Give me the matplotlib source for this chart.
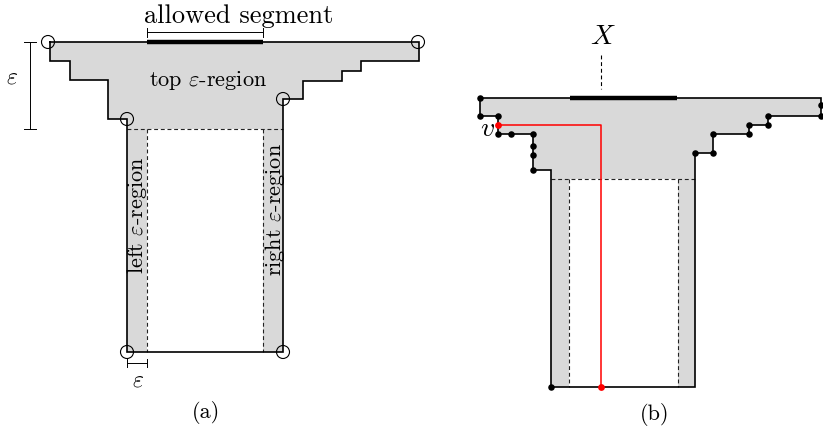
import matplotlib
matplotlib.use("Agg")
import matplotlib.pyplot as plt
from matplotlib.patches import Polygon, Rectangle, Circle

plt.rcParams['font.family'] = ['cmr10', 'DejaVu Serif']
plt.rcParams['mathtext.fontset'] = 'cm'
plt.rcParams['axes.unicode_minus'] = False

GRAY = '#d9d9d9'

# ---- panel (a) geometry (pixel units, y downward) ----
a_outline_x = [50, 419, 419, 361, 361, 342, 342, 303, 303, 283, 283, 127, 127, 108, 108, 70, 70, 50, 50]
a_outline_y = [42, 42, 61, 61, 71, 71, 81, 81, 99, 99, 352, 352, 119, 119, 80, 80, 61, 61, 42]
a_inner = (147, 129, 263, 352)          # x0, y0, x1, y1 of white interior
a_body_x = (127, 283)
a_segment_x = (147, 263)
a_circles_x = [48, 418, 127, 283, 127, 283]
a_circles_y = [42, 42, 119, 99, 352, 352]

# ---- panel (b) geometry ----
b_outline_x = [480, 821, 821, 768, 768, 749, 749, 713, 713, 695, 695, 551, 551, 533, 533, 498, 498, 480, 480]
b_outline_y = [98, 98, 116, 116, 125, 125, 134, 134, 153, 153, 387, 387, 170, 170, 134, 134, 116, 116, 98]
b_inner = (569, 179, 678, 387)
b_body_x = (551, 695)
b_segment_x = (570, 677)
b_dots_x = [480, 480, 498, 498, 511, 533, 533, 533, 533, 551, 821, 821, 768, 768, 749, 749, 713, 713, 695]
b_dots_y = [98, 116, 116, 134, 134, 134, 146, 155, 170, 387, 105, 116, 116, 125, 125, 134, 134, 153, 153]
b_path_x = [498, 601, 601]
b_path_y = [125, 125, 387]

fig = plt.figure(figsize=(8.23, 4.30), dpi=100)
ax = fig.add_axes([0, 0, 1, 1])
ax.set_xlim(0, 823)
ax.set_ylim(430, 0)
ax.axis('off')

LW = 1.2
DASH = (0, (3.5, 2.5))


def panel(ox, oy, inner, body_x, seg_x):
    ax.add_patch(Polygon(list(zip(ox, oy)), closed=True, facecolor=GRAY, edgecolor='none', zorder=1))
    x0, y0, x1, y1 = inner
    ax.add_patch(Rectangle((x0, y0), x1 - x0, y1 - y0, facecolor='white', edgecolor='none', zorder=2))
    ax.plot([body_x[0], body_x[1]], [y0, y0], color='#222222', lw=0.8, ls=DASH, zorder=3)
    ax.plot([x0, x0], [y0, y1], color='#222222', lw=0.8, ls=DASH, zorder=3)
    ax.plot([x1, x1], [y0, y1], color='#222222', lw=0.8, ls=DASH, zorder=3)
    ax.plot(ox, oy, color='black', lw=LW, zorder=4, solid_joinstyle='miter')
    ax.plot(seg_x, [oy[0], oy[0]], color='black', lw=3.2, zorder=5, solid_capstyle='butt')


panel(a_outline_x, a_outline_y, a_inner, a_body_x, a_segment_x)
panel(b_outline_x, b_outline_y, b_inner, b_body_x, b_segment_x)

# panel (a) annotations
for cx, cy in zip(a_circles_x, a_circles_y):
    ax.add_patch(Circle((cx, cy), 6.5, facecolor='none', edgecolor='black', lw=0.8, zorder=6))

# allowed segment bracket
ax.plot([147, 263], [32, 32], color='black', lw=0.7)
ax.plot([147, 147], [28, 37], color='black', lw=0.7)
ax.plot([263, 263], [28, 37], color='black', lw=0.7)
ax.text(144, 16, 'allowed segment', fontsize=19, ha='left', va='center')

# vertical epsilon bracket
ax.plot([30, 30], [42, 129], color='black', lw=0.7)
ax.plot([24, 36], [42, 42], color='black', lw=0.7)
ax.plot([24, 36], [129, 129], color='black', lw=0.7)
ax.text(12, 77, r'$\varepsilon$', fontsize=17, ha='center', va='center')

# horizontal epsilon bracket
ax.plot([127, 147], [363, 363], color='black', lw=0.7)
ax.plot([127, 127], [359, 367], color='black', lw=0.7)
ax.plot([147, 147], [359, 367], color='black', lw=0.7)
ax.text(138, 380, r'$\varepsilon$', fontsize=17, ha='center', va='center')

ax.text(208, 81, r'top $\varepsilon$-region', fontsize=16, ha='center', va='center', zorder=7)
ax.text(137, 215, r'left $\varepsilon$-region', fontsize=16, ha='center', va='center', rotation=90, zorder=7)
ax.text(275, 210, r'right $\varepsilon$-region', fontsize=16, ha='center', va='center', rotation=90, zorder=7)
ax.text(206, 413, '(a)', fontsize=16, ha='center', va='center')

# panel (b) annotations
ax.plot(b_path_x, b_path_y, color='red', lw=1.1, zorder=6)
ax.scatter(b_dots_x, b_dots_y, s=22, color='black', zorder=7, linewidths=0)
ax.scatter([b_path_x[0], b_path_x[-1]], [b_path_y[0], b_path_y[-1]], s=24, color='red', zorder=8, linewidths=0)
ax.plot([601, 601], [55, 89], color='black', lw=0.8, ls=DASH)
ax.text(603, 37, r'$X$', fontsize=20, ha='center', va='center')
ax.text(488, 129, r'$v$', fontsize=20, ha='center', va='center', zorder=9)
ax.text(655, 414, '(b)', fontsize=16, ha='center', va='center')

fig.savefig('out.png', dpi=100)
